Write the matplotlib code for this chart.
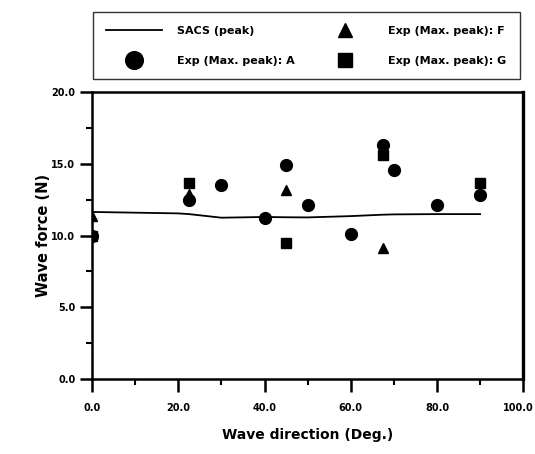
import matplotlib
matplotlib.use("Agg")
from matplotlib import pyplot as plt
from matplotlib.ticker import MultipleLocator, FormatStrFormatter
from matplotlib.transforms import ScaledTranslation

# SACS computed peak force along wave direction
sacs_dir = [0, 10, 20, 22.5, 30, 40, 45, 50, 60, 67.5, 70, 80, 90]
sacs_force = [11.65, 11.6, 11.55, 11.5, 11.25, 11.3, 11.28, 11.27, 11.36, 11.46, 11.48, 11.5, 11.5]

# experiment, max. peak, model A
exp_a_dir = [0, 22.5, 30, 40, 45, 50, 60, 67.5, 70, 80, 90]
exp_a_force = [10.0, 12.45, 13.5, 11.2, 14.9, 12.1, 10.1, 16.35, 14.55, 12.15, 12.8]

# model F
exp_f_dir = [0, 22.5, 45, 67.5]
exp_f_force = [11.4, 12.9, 13.2, 9.15]

# model G
exp_g_dir = [0, 22.5, 45, 67.5, 90]
exp_g_force = [10.0, 13.7, 9.5, 15.6, 13.7]

plt.rcParams["font.family"] = ["DejaVu Sans"]
plt.rcParams["font.weight"] = "bold"

fig = plt.figure(figsize=(5.35, 4.54), dpi=100)
ax = fig.add_axes([0.172, 0.165, 0.806, 0.632])

line, = ax.plot(sacs_dir, sacs_force, color="black", linewidth=1.3)
pa, = ax.plot(exp_a_dir, exp_a_force, "o", color="black", markersize=8.5, linestyle="none")
pf, = ax.plot(exp_f_dir, exp_f_force, "^", color="black", markersize=7, linestyle="none")
pg, = ax.plot(exp_g_dir, exp_g_force, "s", color="black", markersize=6.5, linestyle="none")

ax.set_xlim(0, 100)
ax.set_ylim(0, 20)
ax.set_xticks([0, 20, 40, 60, 80, 100])
ax.set_yticks([0, 5, 10, 15, 20])
ax.xaxis.set_minor_locator(MultipleLocator(10))
ax.yaxis.set_minor_locator(MultipleLocator(2.5))
ax.xaxis.set_major_formatter(FormatStrFormatter("%.1f"))
ax.yaxis.set_major_formatter(FormatStrFormatter("%.1f"))
ax.tick_params(which="major", direction="out", length=9, width=1.8, labelsize=7, pad=3)
ax.tick_params(axis="x", which="major", pad=8)
ax.tick_params(which="minor", direction="out", length=4.5, width=1.5)
for side in ["left", "bottom", "right", "top"]:
    ax.spines[side].set_linewidth(1.8)
ax.spines["right"].set_linewidth(2.4)

# keep the "100.0" label inside the figure
fig.canvas.draw()
last = ax.xaxis.get_major_ticks()[5].label1
last.set_horizontalalignment("right")
last.set_transform(last.get_transform() + ScaledTranslation(10 / 100, 0, fig.dpi_scale_trans))

ax.set_xlabel("Wave direction (Deg.)", fontsize=10, fontweight="bold", labelpad=11)
ax.set_ylabel("Wave force (N)", fontsize=10.5, fontweight="bold", labelpad=0)

leg = fig.legend(
    [line, pa, pf, pg],
    ["SACS (peak)", "Exp (Max. peak): A", "Exp (Max. peak): F", "Exp (Max. peak): G"],
    ncol=2,
    loc="lower left",
    bbox_to_anchor=(93 / 535, 1 - 79 / 454, 427 / 535, 70 / 454),
    mode="expand",
    fontsize=8,
    frameon=True,
    fancybox=False,
    edgecolor="black",
    handlelength=5,
    handletextpad=1.4,
    markerscale=1.5,
    borderaxespad=0,
    borderpad=1.2,
    labelspacing=1.8,
    columnspacing=1.0,
)
leg.get_frame().set_linewidth(1.0)

fig.savefig("out.png", dpi=100)
